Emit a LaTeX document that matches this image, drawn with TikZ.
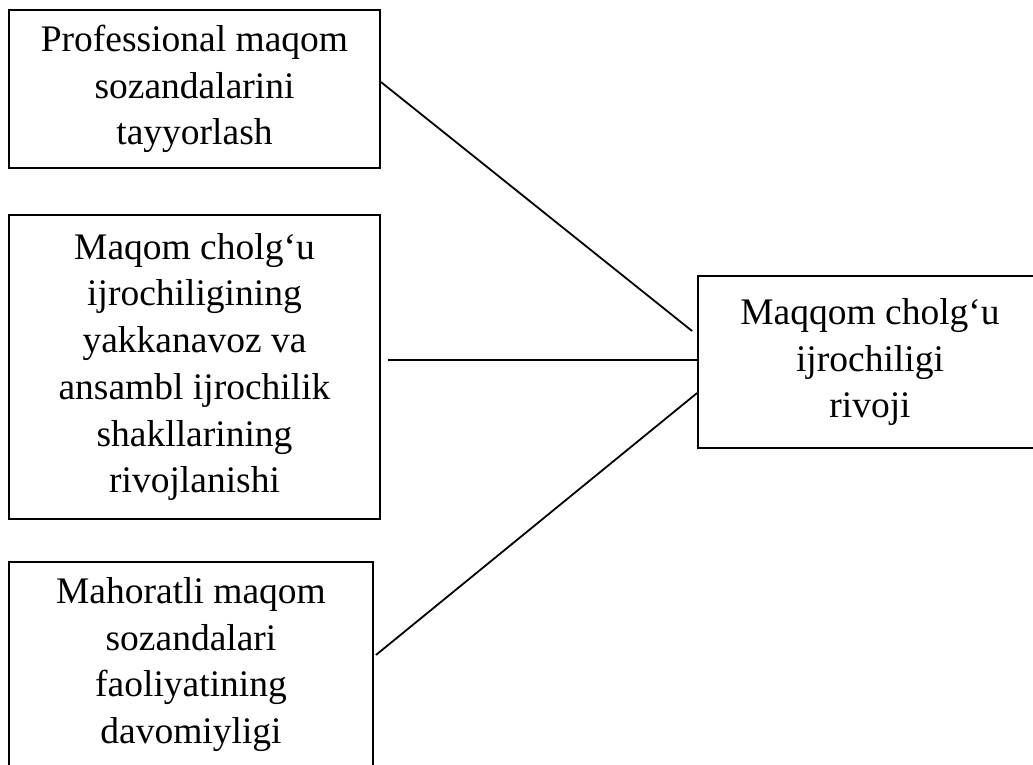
\documentclass[tikz,border=0pt]{standalone}
\usepackage{fontspec}
\setmainfont{Liberation Serif}
\usetikzlibrary{calc}
\tikzset{
  box/.style={draw=black, line width=1.8pt, rectangle, inner sep=0pt, align=center,
    font=\fontsize{37.5}{46.7}\selectfont},
  link/.style={draw=black, line width=1.8pt}
}
\begin{document}
\begin{tikzpicture}[x=1pt,y=-1pt]
\useasboundingbox (0,0) rectangle (1033,764);
\clip (0,0) rectangle (1033,764);
\fill[white] (0,0) rectangle (1033,764);
\node[box, minimum width=371pt, minimum height=158pt] (b1) at (194.5,89)
  {Professional maqom\\sozandalarini\\tayyorlash};
\node[box, minimum width=371pt, minimum height=304pt] (b2) at (194.5,367)
  {Maqom cholg‘u\\ijrochiligining\\yakkanavoz va\\ansambl ijrochilik\\shakllarining\\rivojlanishi};
\node[box, minimum width=364pt, minimum height=205pt] (b3) at (191,664.5)
  {Mahoratli maqom\\sozandalari\\faoliyatining\\davomiyligi};
\node[box, minimum width=344pt, minimum height=172pt] (b4) at (870,362)
  {Maqqom cholg‘u\\ijrochiligi\\rivoji};
\draw[link] ($(b1.east)+(0,-7)$) -- ($(b4.west)+(-5,-31)$);
\draw[link] ($(b2.east)+(7,-7)$) -- ($(b4.west)+(0,-2)$);
\draw[link] ($(b3.east)+(2,-9.5)$) -- ($(b4.west)+(0,31)$);
\end{tikzpicture}
\end{document}
